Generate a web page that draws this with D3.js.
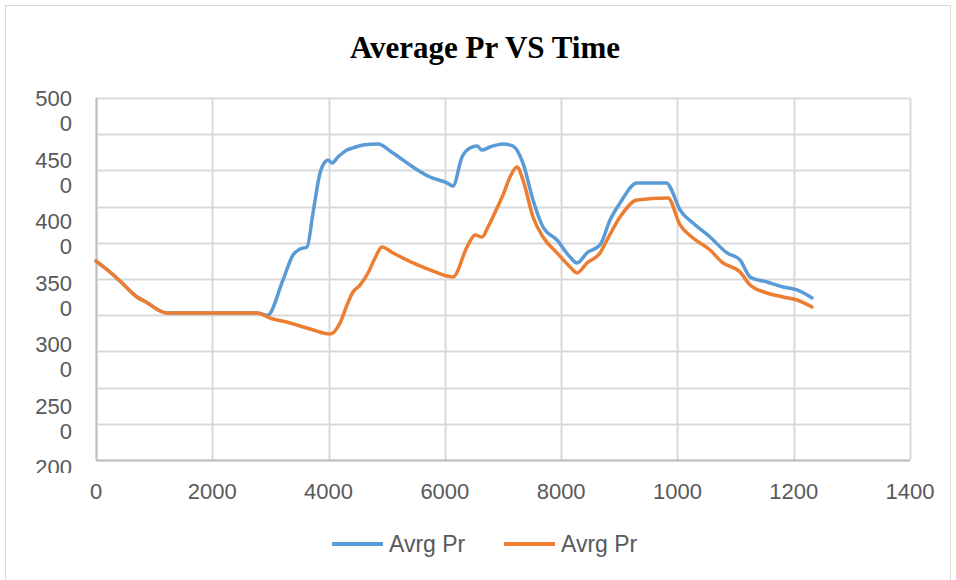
<!DOCTYPE html>
<html>
<head>
<meta charset="utf-8">
<script src="https://cdn.jsdelivr.net/npm/d3@7"></script>
<style>
  body { margin: 0; background: #fff; }
  svg { display: block; }
</style>
</head>
<body>
<div id="chart"></div>
<script>
// time values (x) and Avrg Pr values
const timeA = [0, 241, 413, 705, 860, 1221, 2769, 2950, 3216, 3388, 3509, 3629, 3732, 3853, 3939, 3990, 4059, 4162, 4317, 4420, 4592, 4850, 5108, 5452, 5745, 6037, 6140, 6295, 6433, 6553, 6639, 6777, 7000, 7172, 7344, 7516, 7688, 7929, 8153, 8273, 8445, 8669, 8841, 9013, 9305, 9821, 9873, 10045, 10268, 10561, 10853, 11077, 11249, 11541, 11816, 12057, 12315]
const prA = [3649, 3558, 3483, 3351, 3309, 3218, 3218, 3200, 3492, 3699, 3749, 3765, 4047, 4378, 4470, 4486, 4461, 4511, 4569, 4586, 4611, 4619, 4544, 4428, 4345, 4296, 4271, 4511, 4586, 4602, 4569, 4594, 4619, 4602, 4461, 4155, 3931, 3823, 3682, 3633, 3716, 3782, 3989, 4130, 4296, 4296, 4262, 4072, 3964, 3848, 3716, 3658, 3517, 3475, 3434, 3409, 3343]

const timeB = [0, 241, 413, 705, 860, 1221, 2769, 2993, 3337, 3681, 4025, 4197, 4317, 4420, 4541, 4678, 4799, 4919, 5108, 5452, 5745, 6140, 6381, 6519, 6639, 6742, 6897, 7000, 7121, 7241, 7344, 7516, 7688, 7929, 8153, 8273, 8445, 8669, 8789, 9013, 9305, 9838, 10045, 10268, 10561, 10784, 11077, 11249, 11541, 11816, 12057, 12315]
const prB = [3649, 3558, 3483, 3351, 3309, 3218, 3218, 3177, 3135, 3086, 3044, 3135, 3285, 3392, 3450, 3550, 3674, 3765, 3716, 3633, 3575, 3517, 3765, 3865, 3848, 3931, 4088, 4196, 4345, 4428, 4320, 4014, 3848, 3716, 3600, 3550, 3633, 3716, 3823, 4014, 4155, 4171, 3948, 3840, 3740, 3633, 3558, 3450, 3384, 3351, 3326, 3268]

const xTicks = [0, 2000, 4000, 6000, 8000, 10000, 12000, 14000]
const xTickLabels = ['0', '2000', '4000', '6000', '8000', '1000', '1200', '1400']
const yLabelValues = [5000, 4500, 4000, 3500, 3000, 2500, 2000]
const yGridValues = [2000, 2300, 2600, 2900, 3200, 3500, 3800, 4100, 4400, 4700, 5000]

const seriesNames = ['Avrg Pr', 'Avrg Pr']
const colors = ['#5B9BD5', '#ED7D31']

const W = 956
const H = 580
const margin = { top: 98, right: 46, bottom: 120, left: 96 }
const width = W - margin.left - margin.right
const height = H - margin.top - margin.bottom

const svg = d3.select('#chart')
  .append('svg')
  .attr('width', W)
  .attr('height', H)

// chart area border
svg.append('rect')
  .attr('x', 5.5)
  .attr('y', 5.5)
  .attr('width', W - 11)
  .attr('height', H)
  .attr('fill', '#fff')
  .attr('stroke', '#d9d9d9')

svg.append('text')
  .attr('x', 485)
  .attr('y', 58)
  .attr('text-anchor', 'middle')
  .attr('font-family', '"Liberation Serif", "Times New Roman", serif')
  .attr('font-weight', 'bold')
  .attr('font-size', 31)
  .attr('fill', '#000')
  .text('Average Pr VS Time')

const g = svg.append('g')
  .attr('transform', 'translate(' + margin.left + ',' + margin.top + ')')

const x = d3.scaleLinear().domain([0, 14000]).range([0, width])
const y = d3.scaleLinear().domain([2000, 5000]).range([height, 0])

// gridlines
g.append('g')
  .selectAll('line')
  .data(yGridValues)
  .enter()
  .append('line')
  .attr('x1', 0)
  .attr('x2', width)
  .attr('y1', d => Math.round(y(d)) + 0.5)
  .attr('y2', d => Math.round(y(d)) + 0.5)
  .attr('stroke', '#d9d9d9')
  .attr('stroke-width', 2)

g.append('g')
  .selectAll('line')
  .data(xTicks)
  .enter()
  .append('line')
  .attr('x1', d => Math.round(x(d)) + 0.5)
  .attr('x2', d => Math.round(x(d)) + 0.5)
  .attr('y1', 0)
  .attr('y2', height)
  .attr('stroke', '#d9d9d9')
  .attr('stroke-width', 2)

// axis lines
g.append('line')
  .attr('x1', 0.5).attr('x2', 0.5)
  .attr('y1', 0).attr('y2', height)
  .attr('stroke', '#bfbfbf').attr('stroke-width', 2)
g.append('line')
  .attr('x1', 0).attr('x2', width)
  .attr('y1', height + 0.5).attr('y2', height + 0.5)
  .attr('stroke', '#bfbfbf').attr('stroke-width', 2)

// y labels, wrapped the way the original does it
svg.append('clipPath')
  .attr('id', 'yclip')
  .append('rect')
  .attr('x', 0)
  .attr('y', 80)
  .attr('width', margin.left)
  .attr('height', 393)

const yLab = d3.scaleLinear().domain([5000, 2000]).range([y(5000), y(2000) + 7])

const yLabels = g.append('g')
  .attr('clip-path', 'url(#yclip)')
  .attr('transform', 'translate(' + (-margin.left) + ',' + (-margin.top) + ')')
  .selectAll('text')
  .data(yLabelValues)
  .enter()
  .append('text')
  .attr('x', 72)
  .attr('y', d => margin.top + yLab(d) + 8)
  .attr('text-anchor', 'end')
  .attr('font-family', '"Liberation Sans", Arial, sans-serif')
  .attr('font-size', 22)
  .attr('fill', '#595959')

yLabels.append('tspan')
  .attr('x', 72)
  .text(d => String(d).slice(0, 3))
yLabels.append('tspan')
  .attr('x', 72)
  .attr('dy', 25)
  .text(d => String(d).slice(3))

// x labels
g.append('g')
  .selectAll('text')
  .data(xTicks)
  .enter()
  .append('text')
  .attr('x', d => x(d))
  .attr('y', height + 39)
  .attr('text-anchor', 'middle')
  .attr('font-family', '"Liberation Sans", Arial, sans-serif')
  .attr('font-size', 22)
  .attr('fill', '#595959')
  .text((d, i) => xTickLabels[i])

const line = d3.line()
  .x(d => x(d[0]))
  .y(d => y(d[1]))
  .curve(d3.curveMonotoneX)

const series = [
  d3.zip(timeA, prA),
  d3.zip(timeB, prB)
]

// blue drawn first, orange on top
g.selectAll('.line')
  .data(series)
  .enter()
  .append('path')
  .attr('class', 'line')
  .attr('d', d => line(d))
  .attr('fill', 'none')
  .attr('stroke', (d, i) => colors[i])
  .attr('stroke-width', 3.5)
  .attr('stroke-linejoin', 'round')
  .attr('stroke-linecap', 'round')

// legend
const legend = svg.append('g')
  .attr('transform', 'translate(332,544)')

legend.selectAll('.legend-entry')
  .data(seriesNames)
  .enter()
  .append('g')
  .attr('class', 'legend-entry')
  .attr('transform', (d, i) => `translate(${i * 172},0)`)
  .each(function(d, i) {
    const e = d3.select(this)
    e.append('line')
      .attr('x1', 0)
      .attr('x2', 51)
      .attr('y1', 0)
      .attr('y2', 0)
      .attr('stroke', colors[i])
      .attr('stroke-width', 4)
    e.append('text')
      .attr('x', 57)
      .attr('y', 8)
      .attr('font-family', '"Liberation Sans", Arial, sans-serif')
      .attr('font-size', 23)
      .attr('fill', '#595959')
      .text(d)
  })
</script>
</body>
</html>
